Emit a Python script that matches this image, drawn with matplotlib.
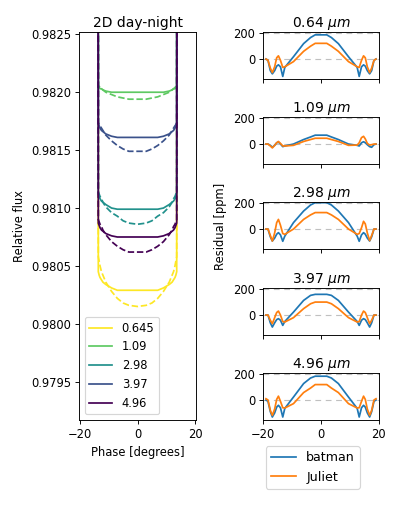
import numpy as np
import matplotlib
matplotlib.use('Agg')
import matplotlib.pyplot as plt

# Curvas de luz (panel izquierdo)
phase = [-19, -14.1, -13.6, -13.3, -13, -12.5, -12, -11, -9, -7, -5, -3, 0,
         3, 5, 7, 9, 11, 12, 12.5, 13, 13.3, 13.6, 14.1, 19]

wavelengths = ['0.645', '1.09', '2.98', '3.97', '4.96']

flux_batman_0645 = [1.0, 1.0, 0.98045, 0.98042, 0.98040, 0.98038, 0.98036, 0.98034, 0.98031, 0.98029, 0.98029, 0.98029, 0.98029,
                    0.98029, 0.98029, 0.98029, 0.98031, 0.98034, 0.98036, 0.98038, 0.98040, 0.98042, 0.98045, 1.0, 1.0]
flux_juliet_0645 = [1.0, 1.0, 0.98058, 0.98054, 0.98050, 0.98045, 0.98042, 0.98036, 0.98028, 0.98022, 0.98018, 0.98016, 0.98015,
                    0.98016, 0.98018, 0.98022, 0.98028, 0.98036, 0.98042, 0.98045, 0.98050, 0.98054, 0.98058, 1.0, 1.0]

flux_batman_109 = [1.0, 1.0, 0.98205, 0.98204, 0.98203, 0.98203, 0.98202, 0.98201, 0.98200, 0.98200, 0.98200, 0.98200, 0.98200,
                   0.98200, 0.98200, 0.98200, 0.98200, 0.98201, 0.98202, 0.98203, 0.98203, 0.98204, 0.98205, 1.0, 1.0]
flux_juliet_109 = [1.0, 1.0, 0.98206, 0.98205, 0.98204, 0.98203, 0.98202, 0.98200, 0.98198, 0.98196, 0.98195, 0.98194, 0.98194,
                   0.98194, 0.98195, 0.98196, 0.98198, 0.98200, 0.98202, 0.98203, 0.98204, 0.98205, 0.98206, 1.0, 1.0]

flux_batman_298 = [1.0, 1.0, 0.98112, 0.98110, 0.98108, 0.98106, 0.98105, 0.98103, 0.98100, 0.98099, 0.98099, 0.98099, 0.98099,
                   0.98099, 0.98099, 0.98099, 0.98100, 0.98103, 0.98105, 0.98106, 0.98108, 0.98110, 0.98112, 1.0, 1.0]
flux_juliet_298 = [1.0, 1.0, 0.98114, 0.98112, 0.98110, 0.98108, 0.98105, 0.98101, 0.98096, 0.98093, 0.98089, 0.98087, 0.98086,
                   0.98087, 0.98089, 0.98093, 0.98096, 0.98101, 0.98105, 0.98108, 0.98110, 0.98112, 0.98114, 1.0, 1.0]

flux_batman_397 = [1.0, 1.0, 0.98173, 0.98171, 0.98169, 0.98167, 0.98166, 0.98164, 0.98162, 0.98161, 0.98161, 0.98161, 0.98161,
                   0.98161, 0.98161, 0.98161, 0.98162, 0.98164, 0.98166, 0.98167, 0.98169, 0.98171, 0.98173, 1.0, 1.0]
flux_juliet_397 = [1.0, 1.0, 0.98174, 0.98172, 0.98171, 0.98169, 0.98167, 0.98163, 0.98158, 0.98154, 0.98151, 0.98149, 0.98149,
                   0.98149, 0.98151, 0.98154, 0.98158, 0.98163, 0.98167, 0.98169, 0.98171, 0.98172, 0.98174, 1.0, 1.0]

flux_batman_496 = [1.0, 1.0, 0.98087, 0.98085, 0.98083, 0.98081, 0.98080, 0.98078, 0.98076, 0.98075, 0.98075, 0.98075, 0.98075,
                   0.98075, 0.98075, 0.98075, 0.98076, 0.98078, 0.98080, 0.98081, 0.98083, 0.98085, 0.98087, 1.0, 1.0]
flux_juliet_496 = [1.0, 1.0, 0.98090, 0.98088, 0.98086, 0.98084, 0.98081, 0.98077, 0.98071, 0.98067, 0.98064, 0.98062, 0.98062,
                   0.98062, 0.98064, 0.98067, 0.98071, 0.98077, 0.98081, 0.98084, 0.98086, 0.98088, 0.98090, 1.0, 1.0]

flux_batman = [flux_batman_0645, flux_batman_109, flux_batman_298, flux_batman_397, flux_batman_496]
flux_juliet = [flux_juliet_0645, flux_juliet_109, flux_juliet_298, flux_juliet_397, flux_juliet_496]

# Residuos (paneles derechos)
phase_res = [-19, -18.3, -17.5, -16.8, -16, -15.3, -14.7, -14, -13.2, -12.5, -9.5, -6, -3.6, -2,
             2, 3.6, 6, 9.5, 12.5, 13.2, 14, 14.7, 15.3, 16, 16.8, 17.5, 18.3, 19]

res_titles = ['0.64', '1.09', '2.98', '3.97', '4.96']

res_batman_064 = [0, -10, -90, -115, -90, -55, -45, -60, -135, -65, 18, 120, 167, 188,
                  188, 167, 120, 18, -65, -135, -60, -45, -55, -90, -115, -90, -10, 0]
res_juliet_064 = [0, -10, -70, -105, -60, 10, 25, -10, -65, -60, -20, 60, 100, 122,
                  122, 100, 60, -20, -60, -65, -10, 25, 10, -60, -105, -70, -10, 0]

res_batman_109 = [0, 0, -10, -25, -10, 10, 15, 0, -20, -15, 0, 35, 55, 69,
                  69, 55, 35, 0, -10, -15, 10, 18, 10, -5, -20, -25, -5, 0]
res_juliet_109 = [0, 0, -15, -30, -10, 10, 20, 5, -15, -15, -10, 20, 35, 45,
                  45, 35, 20, -10, -8, 10, 50, 60, 40, 5, -8, -5, 0, 0]

res_batman_298 = [0, 0, -60, -93, -70, -40, -28, -45, -95, -55, 50, 140, 187, 205,
                  205, 187, 140, 50, -55, -95, -45, -28, -40, -70, -93, -60, 0, 0]
res_juliet_298 = [0, 0, -50, -93, -30, 50, 75, 30, -35, -41, 0, 75, 110, 128,
                  128, 110, 75, 0, -41, -35, 10, 60, 40, -30, -90, -50, 0, 0]

res_batman_397 = [0, 0, -60, -93, -60, -35, -28, -40, -80, -50, 23, 114, 153, 161,
                  161, 153, 114, 23, -50, -80, -40, -28, -35, -60, -93, -60, 0, 0]
res_juliet_397 = [0, 0, -40, -67, -20, 20, 31, 0, -50, -54, -20, 50, 88, 101,
                  101, 88, 50, -20, -54, -50, 0, 31, 20, -20, -67, -40, 0, 0]

res_batman_496 = [0, -10, -90, -132, -100, -55, -41, -60, -132, -65, 23, 128, 171, 185,
                  185, 171, 128, 23, -65, -132, -60, -41, -55, -100, -132, -90, -10, 0]
res_juliet_496 = [10, 0, -80, -119, -70, 5, 30, -10, -60, -62, -28, 58, 93, 120,
                  120, 93, 58, -28, -62, -60, -10, 30, 5, -70, -119, -80, 0, 10]

res_batman = [res_batman_064, res_batman_109, res_batman_298, res_batman_397, res_batman_496]
res_juliet = [res_juliet_064, res_juliet_109, res_juliet_298, res_juliet_397, res_juliet_496]

colors = plt.cm.viridis([1.0, 0.75, 0.5, 0.25, 0.0])

# La figura original parece renderizada más grande y reducida
dpi = 83
fig = plt.figure(figsize=(398 / dpi, 509 / dpi), dpi=dpi)

# Panel izquierdo
ax = fig.add_axes([0.1985, 0.1749, 0.294, 0.7622])
for i in range(len(wavelengths)):
    ax.plot(phase, flux_batman[i], color=colors[i], label=wavelengths[i])
    ax.plot(phase, flux_juliet[i], color=colors[i], linestyle='--')
ax.set_xlim(-20.3, 20.3)
ax.set_ylim(0.97917, 0.98252)
ax.set_xticks([-20, 0, 20])
ax.set_yticks([0.9795, 0.98, 0.9805, 0.981, 0.9815, 0.982, 0.9825])
ax.set_yticklabels(['0.9795', '0.9800', '0.9805', '0.9810', '0.9815', '0.9820', '0.9825'])
ax.set_xlabel('Phase [degrees]')
ax.set_ylabel('Relative flux')
ax.set_title('2D day-night', pad=4)
ax.legend(loc='lower left')

# Paneles de residuos
bottoms = [0.8448, 0.6778, 0.5108, 0.3418, 0.1749]
for i in range(5):
    axr = fig.add_axes([0.661, bottoms[i], 0.291, 0.0923])
    axr.axhline(0, color='#c0c0c0', linestyle='--', dashes=(5, 4), lw=1, zorder=0)
    axr.axhline(200, color='#c0c0c0', linestyle='--', dashes=(5, 4), lw=1, zorder=0)
    axr.plot(phase_res, res_batman[i], color='C0', label='batman')
    axr.plot(phase_res, res_juliet[i], color='C1', label='Juliet')
    axr.set_xlim(-20, 20)
    axr.set_ylim(-155, 210)
    axr.set_xticks([-20, 0, 20])
    axr.set_yticks([0, 200])
    axr.set_title(res_titles[i] + r' $\mu m$', pad=2)
    if i < 4:
        axr.set_xticklabels([])
    else:
        handles, labels = axr.get_legend_handles_labels()

fig.text(0.555, 0.556, 'Residual [ppm]', rotation=90, ha='center', va='center')
fig.legend(handles, labels, loc='upper center', bbox_to_anchor=(0.786, 0.136), fontsize=11)

plt.savefig('out.png', dpi=dpi)
